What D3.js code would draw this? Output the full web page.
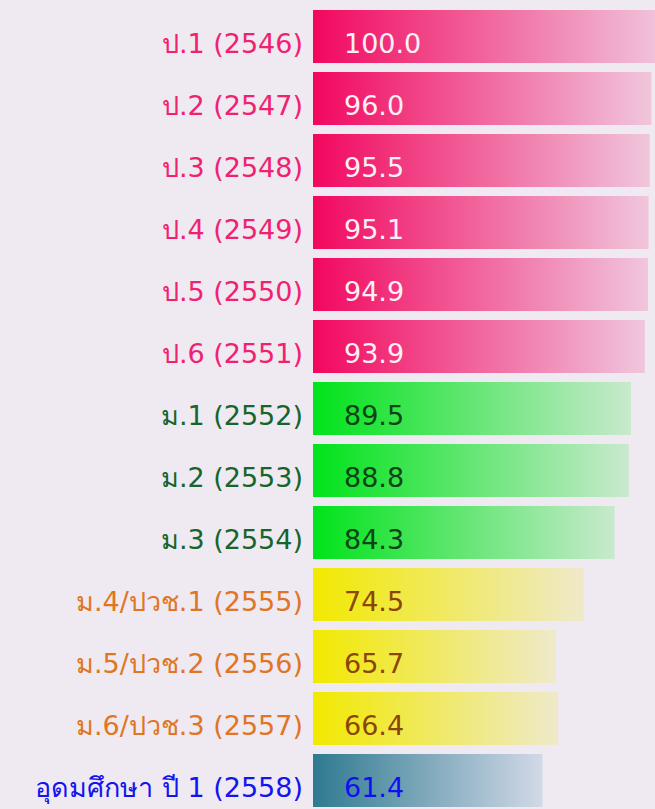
<!DOCTYPE html>
<html lang="th">
<head>
  <meta charset="UTF-8">
  <title>Chart</title>
  <style>
    body, html {
      margin: 0;
      padding: 0;
      background-color: #efe9f2;
    }
    #svg {
      display: block;
    }
  </style>
</head>
<body>
  <svg id="svg" width="655" height="809"></svg>
  <script src="https://d3js.org/d3.v7.min.js"></script>
  <script>
    // data
    const labels = ['ป.1 (2546)', 'ป.2 (2547)', 'ป.3 (2548)', 'ป.4 (2549)', 'ป.5 (2550)', 'ป.6 (2551)',
      'ม.1 (2552)', 'ม.2 (2553)', 'ม.3 (2554)',
      'ม.4/ปวช.1 (2555)', 'ม.5/ปวช.2 (2556)', 'ม.6/ปวช.3 (2557)',
      'อุดมศึกษา ปี 1 (2558)']
    const values = [100.0, 96.0, 95.5, 95.1, 94.9, 93.9, 89.5, 88.8, 84.3, 74.5, 65.7, 66.4, 61.4]
    const groups = ['p', 'p', 'p', 'p', 'p', 'p', 'm', 'm', 'm', 'v', 'v', 'v', 'u']

    const data = labels.map((d, i) => ({ label: d, value: values[i], group: groups[i] }))

    // colours per group: bar start, bar end, label, value text
    const palette = {
      p: { from: '#f2075f', to: '#f0c6dd', label: '#f0226f', value: '#fdf0f4' },
      m: { from: '#00e31a', to: '#c9e9ce', label: '#17652a', value: '#0b4416' },
      v: { from: '#f2e900', to: '#efe9cb', label: '#e07624', value: '#8a4608' },
      u: { from: '#2e7a90', to: '#d2d9e7', label: '#1414ee', value: '#1010f0' }
    }

    const barLeft = 313
    const xScale = d3.scaleLinear()
      .domain([-11.5, 100])
      .range([barLeft, 664])
    const yScale = d3.scaleBand()
      .domain(labels)
      .range([10, 807])
      .paddingInner(0.145)
      .paddingOuter(0)

    const svg = d3.select('#svg')

    const defs = svg.append('defs')
    Object.keys(palette).forEach(k => {
      const g = defs.append('linearGradient')
        .attr('id', 'grad-' + k)
        .attr('x1', '0%').attr('x2', '100%')
        .attr('y1', '0%').attr('y2', '0%')
      g.append('stop').attr('offset', '0%').attr('stop-color', palette[k].from)
      g.append('stop').attr('offset', '100%').attr('stop-color', palette[k].to)
    })

    const rows = svg.selectAll('g.row')
      .data(data)
      .enter()
      .append('g')
      .attr('class', 'row')

    rows.append('rect')
      .attr('x', barLeft)
      .attr('y', d => yScale(d.label))
      .attr('width', d => xScale(d.value) - barLeft)
      .attr('height', yScale.bandwidth())
      .attr('fill', d => `url(#grad-${d.group})`)

    rows.append('text')
      .text(d => d.label)
      .attr('x', 303)
      .attr('y', d => yScale(d.label) + yScale.bandwidth() - 10)
      .attr('text-anchor', 'end')
      .attr('fill', d => palette[d.group].label)
      .style('font-family', 'Tahoma, "DejaVu Sans", sans-serif')
      .style('font-size', '27px')

    rows.append('text')
      .text(d => d.value.toFixed(1))
      .attr('x', 344)
      .attr('y', d => yScale(d.label) + yScale.bandwidth() - 10)
      .attr('fill', d => palette[d.group].value)
      .style('font-family', 'Tahoma, "DejaVu Sans", sans-serif')
      .style('font-size', '27px')
  </script>
</body>
</html>
